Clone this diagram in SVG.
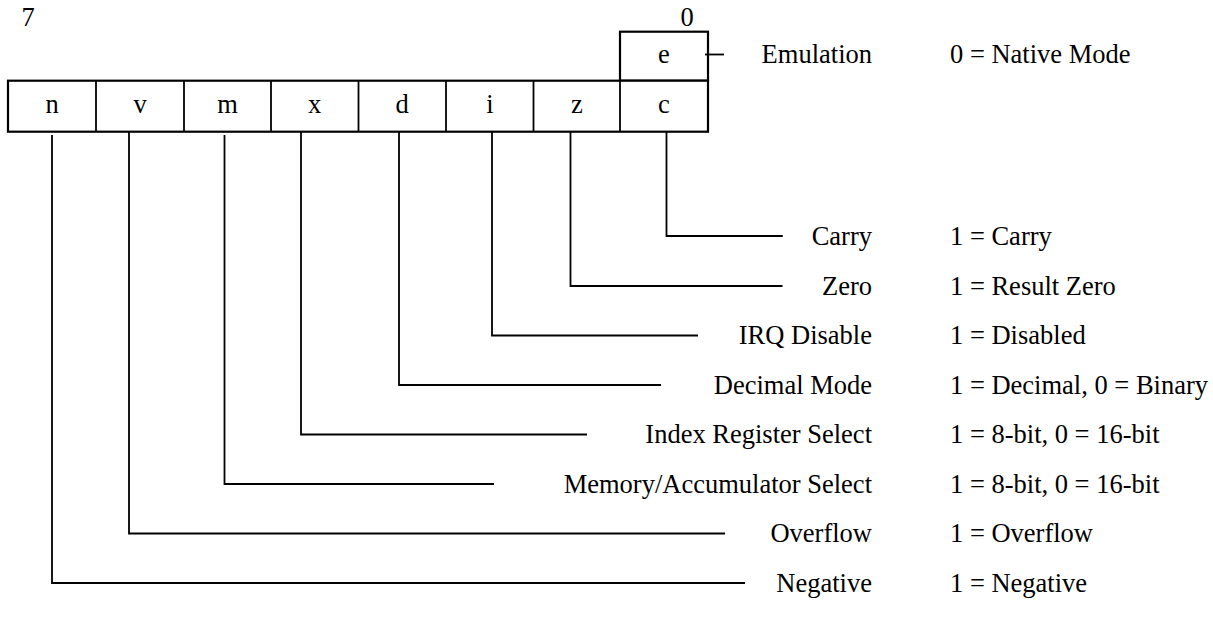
<svg xmlns="http://www.w3.org/2000/svg" width="1213" height="635" viewBox="0 0 1213 635">
<style>
text{font-family:"Liberation Serif","Times New Roman",serif;font-size:26.5px;fill:#000}
.c{text-anchor:middle}
.r{text-anchor:end}
.box{fill:#fff;stroke:#000;stroke-width:2.2}
.ln{fill:none;stroke:#000;stroke-width:1.8}
</style>
<rect width="1213" height="635" fill="#fff"/>
<g id="bitnums">
<text class="c" x="28" y="26">7</text>
<text class="c" x="687" y="26">0</text>
</g>
<g id="register">
<rect class="box" x="620" y="31.7" width="88" height="49"/>
<text class="c" x="664" y="63">e</text>
<rect class="box" x="8" y="80.7" width="700" height="51"/>
<g class="ln">
<line x1="96" y1="80.7" x2="96" y2="131.7"/>
<line x1="184" y1="80.7" x2="184" y2="131.7"/>
<line x1="271" y1="80.7" x2="271" y2="131.7"/>
<line x1="358.5" y1="80.7" x2="358.5" y2="131.7"/>
<line x1="446" y1="80.7" x2="446" y2="131.7"/>
<line x1="533.5" y1="80.7" x2="533.5" y2="131.7"/>
<line x1="620" y1="80.7" x2="620" y2="131.7"/>
</g>
<text class="c" x="52" y="113">n</text>
<text class="c" x="140" y="113">v</text>
<text class="c" x="227.5" y="113">m</text>
<text class="c" x="314.5" y="113">x</text>
<text class="c" x="402" y="113">d</text>
<text class="c" x="490" y="113">i</text>
<text class="c" x="577" y="113">z</text>
<text class="c" x="664" y="113">c</text>
</g>
<g id="connectors" class="ln">
<line x1="705" y1="54.5" x2="724" y2="54.5"/>
<polyline points="666.5,131.7 666.5,236 782.7,236"/>
<polyline points="570.5,131.7 570.5,286 782.5,286"/>
<polyline points="492,131.7 492,335.5 698,335.5"/>
<polyline points="399,131.7 399,385 661,385"/>
<polyline points="301,131.7 301,434.5 587,434.5"/>
<polyline points="224.5,135 224.5,484 494,484"/>
<polyline points="129,131.7 129,533.5 725,533.5"/>
<polyline points="52,135 52,583 745,583"/>
</g>
<g id="labels">
<text class="r" x="872" y="63">Emulation</text>
<text x="950" y="63">0 = Native Mode</text>
<text class="r" x="872" y="245">Carry</text>
<text x="950" y="245">1 = Carry</text>
<text class="r" x="872" y="295">Zero</text>
<text x="950" y="295">1 = Result Zero</text>
<text class="r" x="872" y="344">IRQ Disable</text>
<text x="950" y="344">1 = Disabled</text>
<text class="r" x="872" y="394">Decimal Mode</text>
<text x="950" y="394">1 = Decimal, 0 = Binary</text>
<text class="r" x="872" y="443">Index Register Select</text>
<text x="950" y="443">1 = 8-bit, 0 = 16-bit</text>
<text class="r" x="872" y="493">Memory/Accumulator Select</text>
<text x="950" y="493">1 = 8-bit, 0 = 16-bit</text>
<text class="r" x="872" y="542">Overflow</text>
<text x="950" y="542">1 = Overflow</text>
<text class="r" x="872" y="592">Negative</text>
<text x="950" y="592">1 = Negative</text>
</g>
</svg>
